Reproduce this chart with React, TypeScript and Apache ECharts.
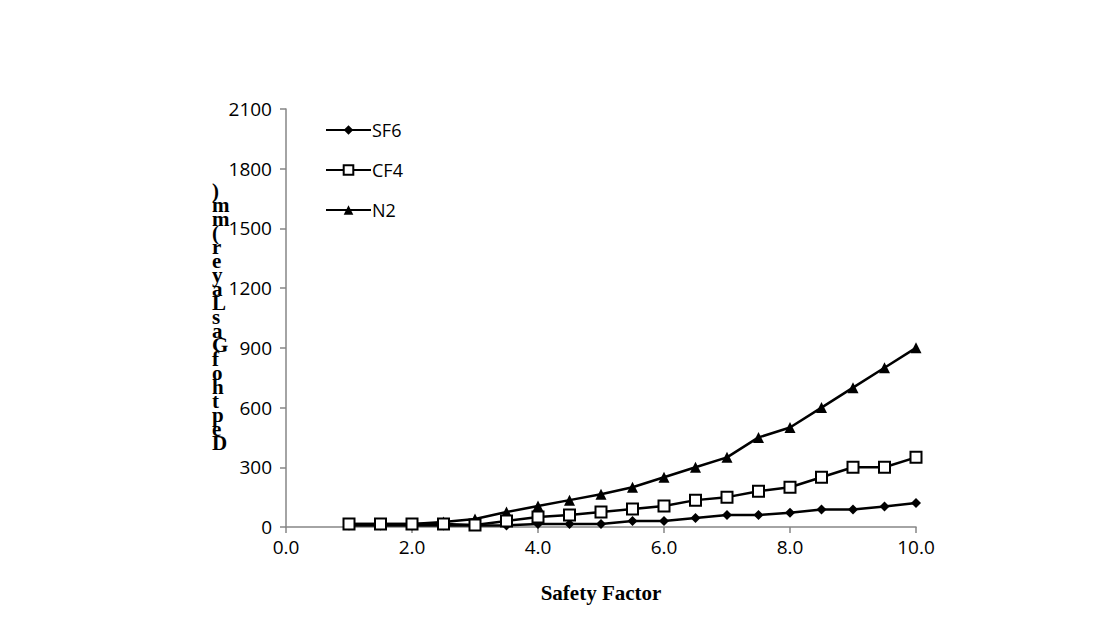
import React, { useEffect, useRef } from "react";
import * as echarts from "echarts";

const xValues = [1, 1.5, 2, 2.5, 3, 3.5, 4, 4.5, 5, 5.5, 6, 6.5, 7, 7.5, 8, 8.5, 9, 9.5, 10];
const sf6 = [8, 8, 8, 8, 8, 8, 15, 15, 15, 30, 30, 45, 60, 60, 72, 88, 88, 103, 120];
const cf4 = [15, 15, 15, 15, 10, 30, 50, 60, 75, 90, 105, 135, 150, 180, 200, 250, 300, 300, 350];
const n2 = [15, 15, 15, 25, 40, 75, 105, 135, 165, 200, 250, 300, 350, 450, 500, 600, 700, 800, 900];
const yTitle = "Depth of Gas Layer (mm)";
const xTitle = "Safety Factor";

export default function App() {
  const ref = useRef<HTMLDivElement>(null);
  useEffect(() => {
    const chart = echarts.init(ref.current!, null, { renderer: "svg" });
    const pairs = (ys: number[]) => xValues.map((x, i) => [x, ys[i]]);
    const stacked = yTitle.replace(/ /g, "").split("").reverse().join("\n");
    const lineStyle = { color: "#000", width: 2.5 };
    chart.setOption({
      animation: false,
      backgroundColor: "#fff",
      grid: { left: 286, right: 183, top: 109, bottom: 110 },
      legend: {
        left: 325,
        top: 121,
        padding: 0,
        orient: "vertical",
        itemWidth: 45,
        itemHeight: 12,
        itemGap: 22,
        textStyle: { fontFamily: "Open Sans", fontSize: 18, color: "#000", padding: [0, 0, 0, -4] },
        data: ["SF6", "CF4", "N2"],
      },
      xAxis: {
        type: "value",
        min: 0,
        max: 10,
        interval: 2,
        axisLine: { lineStyle: { color: "#868686", width: 1.5 } },
        axisTick: { show: true, length: 6, lineStyle: { color: "#868686", width: 1.5 } },
        splitLine: { show: false },
        axisLabel: {
          formatter: (v: number) => v.toFixed(1),
          fontFamily: "Open Sans",
          fontSize: 19,
          color: "#000",
          margin: 10,
        },
        name: xTitle,
        nameLocation: "middle",
        nameGap: 55,
        nameTextStyle: { fontFamily: "Liberation Serif", fontWeight: "bold", fontSize: 21, color: "#000" },
      },
      yAxis: {
        type: "value",
        min: 0,
        max: 2100,
        interval: 300,
        axisLine: { show: true, lineStyle: { color: "#868686", width: 1.5 } },
        axisTick: { show: true, length: 6, lineStyle: { color: "#868686", width: 1.5 } },
        splitLine: { show: false },
        axisLabel: {
          formatter: (v: number) => String(v),
          fontFamily: "Open Sans",
          fontSize: 19,
          color: "#000",
          margin: 14,
        },
      },
      graphic: [
        {
          type: "text",
          left: 212,
          top: 180,
          style: {
            text: stacked,
            fontFamily: "Liberation Serif",
            fontWeight: "bold",
            fontSize: 21,
            lineHeight: 14,
            fill: "#000",
            align: "left",
          },
        },
      ],
      series: [
        {
          name: "SF6",
          type: "line",
          data: pairs(sf6),
          lineStyle,
          symbol: "diamond",
          symbolSize: 10,
          itemStyle: { color: "#000" },
          z: 3,
        },
        {
          name: "CF4",
          type: "line",
          data: pairs(cf4),
          lineStyle,
          symbol: "rect",
          symbolSize: 11,
          itemStyle: { color: "#fff", borderColor: "#000", borderWidth: 2 },
          z: 4,
        },
        {
          name: "N2",
          type: "line",
          data: pairs(n2),
          lineStyle,
          symbol: "triangle",
          symbolSize: 11,
          itemStyle: { color: "#000" },
          z: 2,
        },
      ],
    });
    return () => chart.dispose();
  }, []);
  return <div ref={ref} style={{ width: 1099, height: 637, position: "absolute", left: 0, top: 0 }} />;
}
